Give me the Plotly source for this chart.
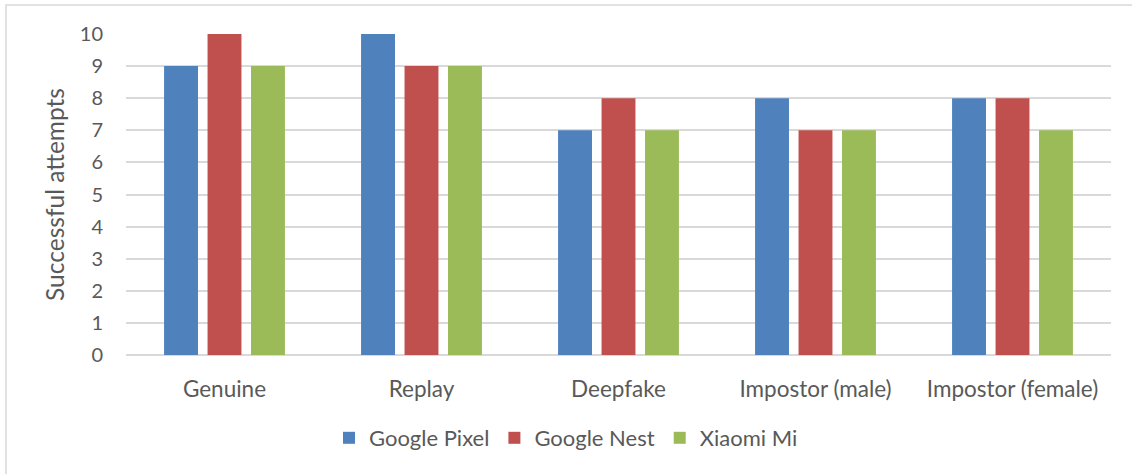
import plotly.graph_objects as go

categories = ["Genuine", "Replay", "Deepfake", "Impostor (male)", "Impostor (female)"]
google_pixel = [9, 10, 7, 8, 8]
google_nest = [10, 9, 8, 7, 8]
xiaomi_mi = [9, 9, 7, 7, 7]
y_ticks = list(range(0, 11))

series = [
    ("Google Pixel", google_pixel, "#4f81bd"),
    ("Google Nest", google_nest, "#c0504d"),
    ("Xiaomi Mi", xiaomi_mi, "#9bbb59"),
]

font_family = "Lato, 'Open Sans', sans-serif"
text_color = "#595959"

fig = go.Figure()
for name, vals, color in series:
    fig.add_trace(go.Bar(x=categories, y=vals, name=name, marker_color=color,
                         marker_line_width=0))

W, H = 1132, 474
L, R, T, B = 126, 21, 34, 119
pw = W - L - R
ph = H - T - B

fig.update_layout(
    width=W, height=H,
    margin=dict(l=L, r=R, t=T, b=B, pad=0),
    paper_bgcolor="white", plot_bgcolor="white",
    barmode="group", bargap=0.338, bargroupgap=0.22,
    font=dict(family=font_family, color=text_color, size=22),
    showlegend=True,
    legend=dict(orientation="h", x=(566 - L) / pw, xanchor="center",
                y=(T + ph - 438) / ph, yanchor="middle",
                font=dict(size=22, color=text_color),
                itemwidth=30, tracegroupgap=0),
    xaxis=dict(showgrid=False, showline=False, ticks="",
               ticklabelstandoff=18,
               tickfont=dict(size=22.5, color=text_color)),
    yaxis=dict(range=[0, 10], tickvals=y_ticks, showgrid=True,
               gridcolor="#d9d9d9", gridwidth=1.5, zeroline=True,
               zerolinecolor="#d9d9d9", zerolinewidth=1.5, ticks="",
               ticklabelstandoff=22,
               tickfont=dict(size=20, color=text_color),
               title=dict(text="Successful attempts", standoff=8,
                          font=dict(size=24.5, color=text_color))),
)

# Outer chart border
fig.add_shape(type="rect", xref="paper", yref="paper",
              x0=(6 - L) / pw, x1=(W + 10 - L) / pw,
              y0=-(H + 10 - T - ph) / ph, y1=(T + ph - 5) / ph,
              line=dict(color="#d9d9d9", width=1.5), fillcolor="rgba(0,0,0,0)",
              layer="below")

fig.write_html("out.html")
